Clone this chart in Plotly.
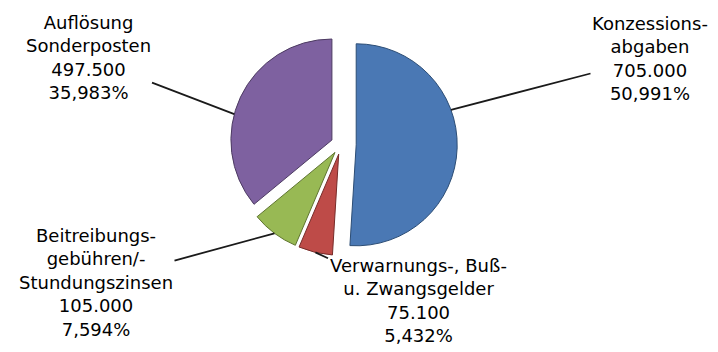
import math
import plotly.graph_objects as go

labels = ["Konzessions-<br>abgaben", "Verwarnungs-, Buß-<br>u. Zwangsgelder",
          "Beitreibungs-<br>gebühren/-<br>Stundungszinsen", "Auflösung<br>Sonderposten"]
values = [705000, 75100, 105000, 497500]
value_text = ["705.000", "75.100", "105.000", "497.500"]
pct_text = ["50,991%", "5,432%", "7,594%", "35,983%"]
colors = ["#4A78B4", "#BE4B48", "#98B954", "#7E61A0"]
line_colors = ["#2C4D75", "#772C2A", "#5F7530", "#4D3B62"]
pulls = [0.15, 0.1, 0.1, 0.1]

W, H = 718, 352
dom_x = [0.30, 0.65]
dom_y = [0.26, 0.92]

fig = go.Figure(go.Pie(
    labels=[l.replace("<br>", " ") for l in labels],
    values=values,
    sort=False,
    direction="clockwise",
    rotation=0,
    pull=pulls,
    marker=dict(colors=colors, line=dict(color=line_colors, width=1)),
    textinfo="none",
    hoverinfo="label+value+percent",
    showlegend=False,
    domain=dict(x=dom_x, y=dom_y),
))

# geometry of plotly pie (to anchor leader lines on slices)
cx = W * (dom_x[0] + dom_x[1]) / 2
cy = H * (1 - (dom_y[0] + dom_y[1]) / 2)
r = min(W * (dom_x[1] - dom_x[0]), H * (dom_y[1] - dom_y[0])) / (2 * (1 + max(pulls)))
total = sum(values)
starts = []
acc = 0
for v in values:
    starts.append(acc / total * 360)
    acc += v

# label placement (text centres, px) and anchor angle fraction within slice
text_pos = [(650, 58), (418, 300), (96, 282), (88, 58)]
anchor_frac = [0.38, 0.5, 0.5, 0.42]

for i in range(len(values)):
    a0 = starts[i]
    span = values[i] / total * 360
    mid = math.radians(a0 + span / 2)
    th = math.radians(a0 + span * anchor_frac[i])
    hx = cx + pulls[i] * r * math.sin(mid) + r * math.sin(th)
    hy = cy - pulls[i] * r * math.cos(mid) - r * math.cos(th)
    tx, ty = text_pos[i]
    fig.add_annotation(
        x=hx / W, y=1 - hy / H, xref="paper", yref="paper",
        ax=tx - hx, ay=ty - hy, axref="pixel", ayref="pixel",
        text=f"{labels[i]}<br>{value_text[i]}<br>{pct_text[i]}",
        showarrow=True, arrowhead=0, arrowwidth=1.8, arrowcolor="#1a1a1a",
        standoff=0, align="center",
        font=dict(family="DejaVu Sans, Liberation Sans, sans-serif", size=18, color="#000000"),
    )

fig.update_layout(
    width=W, height=H,
    margin=dict(l=0, r=0, t=0, b=0),
    paper_bgcolor="white", plot_bgcolor="white",
)
fig.write_html("out.html")
